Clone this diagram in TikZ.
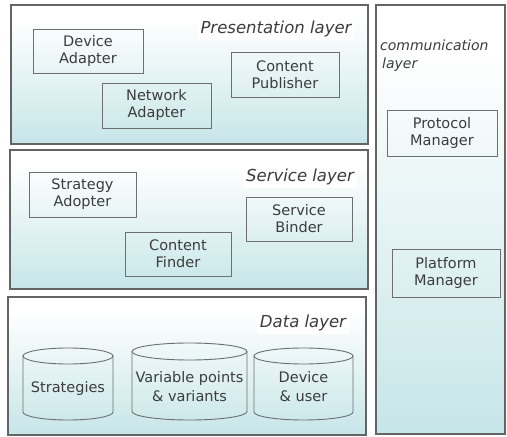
\documentclass[tikz,border=0pt]{standalone}
\usepackage{fontspec}
\setmainfont{DejaVu Sans}
\definecolor{layerteal}{RGB}{184,223,226}
\definecolor{edgegray}{RGB}{100,100,100}
\definecolor{boxgray}{RGB}{110,110,110}
\definecolor{inkgray}{RGB}{60,60,60}
\pgfdeclareverticalshading{layershade}{100bp}{color(0bp)=(layerteal); color(25bp)=(layerteal!80!white); color(70bp)=(white); color(100bp)=(white)}
\tikzset{
  layer/.style={draw=edgegray, line width=1.1pt, shading=layershade},
  module/.style={draw=boxgray, line width=0.9pt, rectangle, inner sep=0pt,
    align=center, text=inkgray, font=\fontsize{14.5}{17}\selectfont},
  layerlabel/.style={fill=white, text=inkgray, inner sep=3pt,
    font=\fontsize{16.5}{19}\selectfont\itshape},
  drum/.style={draw=boxgray, line width=0.9pt},
  drumtext/.style={align=center, text=inkgray, inner sep=0pt,
    font=\fontsize{14.5}{19}\selectfont},
}
% drum outline: left, right, top, bottom, y radius of the end ellipse
\newcommand\drumshape[5]{%
  \draw[drum] (#1,#3-#5) -- (#1,#4+#5)
    arc[start angle=180, end angle=360, x radius={(#2-#1)/2*1pt}, y radius=#5pt]
    -- (#2,#3-#5);
  \draw[drum] ({(#1+#2)/2},#3-#5) ellipse [x radius={(#2-#1)/2*1pt}, y radius=#5pt];
}
\begin{document}
\begin{tikzpicture}[x=1pt,y=1pt]
\useasboundingbox (0,0) rectangle (507,437);

% layer frames
\path[layer] (11,293) rectangle (368,432);
\path[layer] (10,148) rectangle (368,287);
\path[layer] (8,2) rectangle (366,140);
\path[layer] (376,3) rectangle (505,432);

% layer titles
\node[layerlabel] (pres) at (276,408) {Presentation layer};
\node[layerlabel] (serv) at (300,260) {Service layer};
\node[layerlabel] (data) at (303,114) {Data layer};
\node[anchor=west, align=left, text=inkgray, inner sep=0pt,
  font=\fontsize{14}{18}\selectfont\itshape] (comm) at (380,381)
  {communication\\\hspace{2pt}layer};

% presentation layer modules
\node[module, minimum width=110pt, minimum height=44pt] (devad) at (88,386) {Device\\Adapter};
\node[module, minimum width=109pt, minimum height=45pt] (netad) at (156.5,331.5) {Network\\Adapter};
\node[module, minimum width=108pt, minimum height=45pt] (pub) at (285,362.5) {Content\\Publisher};

% service layer modules
\node[module, minimum width=107pt, minimum height=45pt] (strad) at (82.5,242.5) {Strategy\\Adopter};
\node[module, minimum width=106pt, minimum height=44pt] (find) at (178,183) {Content\\Finder};
\node[module, minimum width=106pt, minimum height=44pt] (bind) at (299,218) {Service\\Binder};

% communication layer modules
\node[module, minimum width=110pt, minimum height=46pt] (proto) at (442,304) {Protocol\\Manager};
\node[module, minimum width=108pt, minimum height=48pt] (plat) at (446,164) {Platform\\Manager};

% data stores
\drumshape{23}{113}{89}{17}{8}
\drumshape{132}{247}{94}{17}{8.5}
\drumshape{254}{353}{89}{17}{8}
\node[drumtext] (strats) at (68,48) {Strategies};
\node[drumtext] (varpts) at (189.5,50.5) {Variable points\\\& variants};
\node[drumtext] (devusr) at (303.5,50.5) {Device\\\& user};
\end{tikzpicture}
\end{document}
